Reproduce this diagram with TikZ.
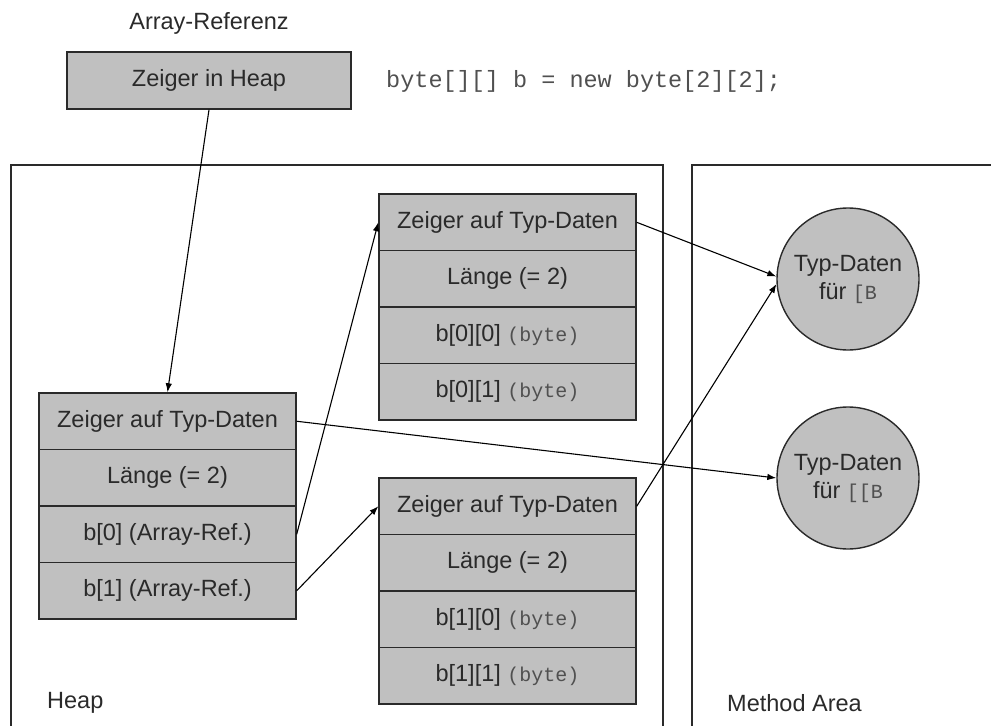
\documentclass[tikz,border=0pt]{standalone}
\usepackage{fontspec}
\setmainfont{Liberation Sans}
\newfontfamily\codefont{Liberation Mono}
\usetikzlibrary{arrows.meta,calc}
\definecolor{cellfill}{HTML}{C0C0C0}
\definecolor{ink}{HTML}{2A2A2A}
\definecolor{codegray}{HTML}{505050}
\newcommand\codetxt[1]{{\codefont\fontsize{20bp}{24bp}\selectfont\color{codegray}#1}}
\tikzset{
  txt/.style={text=ink, font=\fontsize{23.5bp}{28bp}\selectfont, inner sep=0},
  cell/.style={txt, draw=ink, line width=1.4bp, fill=cellfill,
               minimum width=257bp, minimum height=56.5bp},
  typdata/.style={txt, draw=ink, line width=1.4bp, fill=cellfill, circle,
               minimum size=142bp, align=center},
  area/.style={draw=ink, line width=1.3bp},
  ptr/.style={draw=black, line width=1.1bp, -{Latex[length=9bp,width=6.5bp]}},
}
\begin{document}
\begin{tikzpicture}[x=1bp, y=-1bp]
  \useasboundingbox (0,0) rectangle (991,726);

  % memory areas (open towards the bottom)
  \draw[area] (11,730) |- (663,165) -- (663,730);
  \draw[area] (692,730) |- (1000,165);
  \node[txt, anchor=west] (heaplbl) at (47,703) {Heap};
  \node[txt, anchor=west] (methlbl) at (727,703) {Method Area};

  % reference variable
  \node[txt] (reflbl) at (209,23) {Array-Referenz};
  \node[cell, minimum width=284bp, minimum height=57bp] (ref) at (209,80.5) {Zeiger in Heap};
  \node[anchor=west, inner sep=0] (code) at (386,81)
    {\codefont\fontsize{23.5bp}{28bp}\selectfont\color{codegray}byte[][] b = new byte[2][2];};

  % outer array
  \node[cell] (A0) at (167.5,421.25) {Zeiger auf Typ-Daten};
  \node[cell] (A1) at (167.5,477.75) {Länge (= 2)};
  \node[cell] (A2) at (167.5,534.25) {b[0] (Array-Ref.)};
  \node[cell] (A3) at (167.5,590.75) {b[1] (Array-Ref.)};

  % inner array b[0]
  \node[cell] (B0) at (507.5,222.3) {Zeiger auf Typ-Daten};
  \node[cell] (B1) at (507.5,278.8) {Länge (= 2)};
  \node[cell] (B2) at (507.5,335.3) {b[0][0] \codetxt{(byte)}};
  \node[cell] (B3) at (507.5,391.8) {b[0][1] \codetxt{(byte)}};

  % inner array b[1]
  \node[cell] (C0) at (507.5,506.25) {Zeiger auf Typ-Daten};
  \node[cell] (C1) at (507.5,562.75) {Länge (= 2)};
  \node[cell] (C2) at (507.5,619.25) {b[1][0] \codetxt{(byte)}};
  \node[cell] (C3) at (507.5,675.75) {b[1][1] \codetxt{(byte)}};

  % type data in the method area
  \node[typdata] (T1) at (848,279) {Typ-Daten\\für \codetxt{[B}};
  \node[typdata] (T2) at (848,478) {Typ-Daten\\für \codetxt{[[B}};

  % pointers
  \draw[ptr] (ref.south) -- (A0.north);
  \draw[ptr] (A2.east) -- (B0.west);
  \draw[ptr] (A3.east) -- (C0.west);
  \draw[ptr] (A0.east) -- (T2.west);
  \draw[ptr] (B0.east) -- (T1.178);
  \draw[ptr] (C0.east) -- (T1.184);
\end{tikzpicture}
\end{document}
